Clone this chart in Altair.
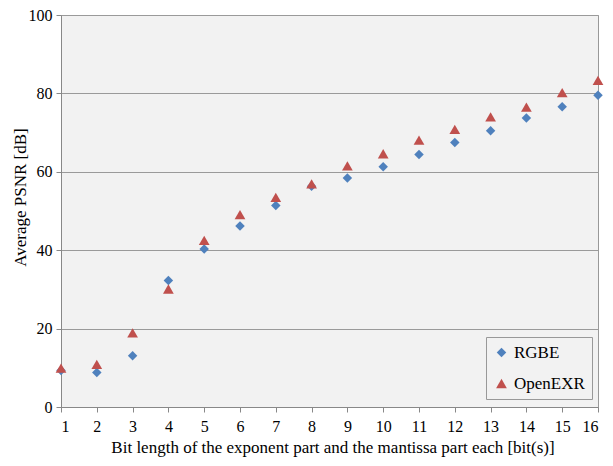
import altair as alt
import pandas as pd

bits = list(range(1, 17))
rgbe = [9.3, 8.8, 13.1, 32.3, 40.3, 46.2, 51.4, 56.3, 58.4, 61.3, 64.4, 67.5, 70.5, 73.7, 76.6, 79.5]
openexr = [9.9, 10.9, 18.9, 30.1, 42.5, 49.1, 53.5, 56.9, 61.5, 64.6, 68.1, 70.8, 74.0, 76.5, 80.2, 83.3]
series = ["RGBE", "OpenEXR"]
colors = ["#4f81bd", "#c0504d"]
shapes = ["diamond", "triangle-up"]
sizes = [90, 115]

rows = []
for b, v in zip(bits, rgbe):
    rows.append({"bits": b, "psnr": v, "series": "RGBE"})
for b, v in zip(bits, openexr):
    rows.append({"bits": b, "psnr": v, "series": "OpenEXR"})
df = pd.DataFrame(rows)

FONT = "Liberation Serif"
W = 537
H = 392

chart = alt.Chart(df).mark_point(filled=True, opacity=1).encode(
    x=alt.X("bits:Q",
            scale=alt.Scale(domain=[1, 16], nice=False, zero=False),
            axis=alt.Axis(values=bits, grid=False, title="Bit length of the exponent part and the mantissa part each [bit(s)]",
                          titleX=W / 2 + 3, titleY=45, titleBaseline="alphabetic", titleAlign="center",
                          labelPadding=6, tickSize=5, tickColor="#888888", domainColor="#888888",
                          labelFontSize=16, titleFontSize=17, labelColor="#000000", titleColor="#000000",
                          labelFont=FONT, titleFont=FONT, titleFontWeight="normal")),
    y=alt.Y("psnr:Q",
            scale=alt.Scale(domain=[0, 100], nice=False),
            axis=alt.Axis(values=[0, 20, 40, 60, 80, 100], grid=True, gridColor="#9a9a9a",
                          title="Average PSNR [dB]", titleX=-36, titleY=182, titleAngle=-90,
                          titleBaseline="alphabetic", titleAlign="center",
                          labelPadding=4, tickSize=5, tickColor="#888888", domainColor="#888888",
                          labelFontSize=16, titleFontSize=17, labelColor="#000000", titleColor="#000000",
                          labelFont=FONT, titleFont=FONT, titleFontWeight="normal")),
    color=alt.Color("series:N", scale=alt.Scale(domain=series, range=colors),
                    legend=alt.Legend(title=None, orient="none", legendX=W - 112, legendY=322,
                                      fillColor="#f2f2f2", strokeColor="#999999", padding=7,
                                      rowPadding=13, symbolSize=55, labelFontSize=17, labelFont=FONT,
                                      labelColor="#000000", symbolOffset=0, labelOffset=4)),
    shape=alt.Shape("series:N", scale=alt.Scale(domain=series, range=shapes), legend=None),
    size=alt.Size("series:N", scale=alt.Scale(domain=series, range=sizes), legend=None),
).properties(
    width=W, height=H,
    background="#ffffff",
    padding={"left": 53, "top": 7, "right": 7, "bottom": 50},
    autosize=alt.AutoSizeParams(type="none"),
).configure_view(
    fill="#f2f2f2", stroke="#999999", strokeWidth=1
)

chart.save("out.html", embed_options={"renderer": "svg", "actions": False})
